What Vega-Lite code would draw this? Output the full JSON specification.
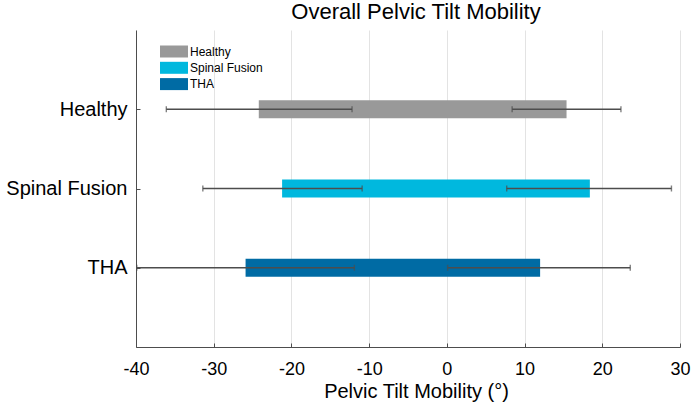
{
  "$schema": "https://vega.github.io/schema/vega-lite/v6.json",
  "width": 544,
  "height": 317,
  "autosize": {"type": "none"},
  "padding": {"left": 136, "top": 30, "right": 12, "bottom": 58},
  "background": "white",
  "title": {
    "text": "Overall Pelvic Tilt Mobility",
    "font": "Liberation Sans",
    "fontSize": 22,
    "fontWeight": "normal",
    "color": "#000000",
    "anchor": "middle",
    "offset": 6,
    "dx": 8
  },
  "data": {
    "values": [
      {"group": "Healthy", "min": -24.2, "max": 15.4, "minLo": -36.1, "minHi": -12.2, "maxLo": 8.4, "maxHi": 22.4},
      {"group": "Spinal Fusion", "min": -21.2, "max": 18.4, "minLo": -31.4, "minHi": -10.9, "maxLo": 7.7, "maxHi": 28.9},
      {"group": "THA", "min": -25.9, "max": 12.0, "minLo": -39.9, "minHi": -11.9, "maxLo": 0.1, "maxHi": 23.6}
    ]
  },
  "encoding": {
    "y": {
      "field": "group",
      "type": "nominal",
      "sort": ["Healthy", "Spinal Fusion", "THA"],
      "scale": {"type": "point", "padding": 1},
      "axis": {
        "title": null,
        "labelFont": "Liberation Sans",
        "labelFontSize": 20,
        "labelColor": "#000000",
        "labelPadding": 13,
        "tickSize": -4,
        "tickColor": "#4d4d4d",
        "domainColor": "#4d4d4d",
        "grid": false
      }
    }
  },
  "layer": [
    {
      "mark": {"type": "bar", "size": 18},
      "encoding": {
        "x": {
          "field": "min",
          "type": "quantitative",
          "title": "Pelvic Tilt Mobility (°)",
          "scale": {"domain": [-40, 30], "nice": false, "zero": false},
          "axis": {
            "values": [-40, -30, -20, -10, 0, 10, 20, 30],
            "labelExpr": "toString(datum.value)",
            "titleFont": "Liberation Sans",
            "titleFontSize": 20,
            "titleFontWeight": "normal",
            "titleColor": "#000000",
            "titleBaseline": "alphabetic",
            "titleY": 50,
            "titleX": 280,
            "labelFont": "Liberation Sans",
            "labelFontSize": 18,
            "labelColor": "#000000",
            "labelPadding": 17,
            "labelFlush": false,
            "tickSize": -4,
            "tickColor": "#4d4d4d",
            "domainColor": "#4d4d4d",
            "grid": true,
            "gridColor": "#e3e3e3",
            "gridWidth": 1
          }
        },
        "x2": {"field": "max"},
        "color": {
          "field": "group",
          "type": "nominal",
          "sort": ["Healthy", "Spinal Fusion", "THA"],
          "scale": {"domain": ["Healthy", "Spinal Fusion", "THA"], "range": ["#999999", "#00b8de", "#006ba4"]},
          "legend": {
            "title": null,
            "orient": "none",
            "legendX": 32,
            "legendY": 15.5,
            "padding": 0,
            "symbolType": "M-2.33,-1H2.33V1H-2.33Z",
            "symbolSize": 144,
            "symbolStrokeWidth": 0,
            "symbolOpacity": 1,
            "labelFont": "Liberation Sans",
            "labelFontSize": 12,
            "labelColor": "#000000",
            "labelOffset": 10,
            "rowPadding": 4.3
          }
        }
      }
    },
    {
      "mark": {"type": "errorbar", "ticks": {"size": 6, "color": "#4d4d4d"}, "color": "#4d4d4d", "thickness": 1.4},
      "encoding": {
        "x": {"field": "minLo", "type": "quantitative", "title": "Pelvic Tilt Mobility (°)"},
        "x2": {"field": "minHi"}
      }
    },
    {
      "mark": {"type": "errorbar", "ticks": {"size": 6, "color": "#4d4d4d"}, "color": "#4d4d4d", "thickness": 1.4},
      "encoding": {
        "x": {"field": "maxLo", "type": "quantitative", "title": "Pelvic Tilt Mobility (°)"},
        "x2": {"field": "maxHi"}
      }
    }
  ],
  "config": {
    "view": {"stroke": null}
  }
}
